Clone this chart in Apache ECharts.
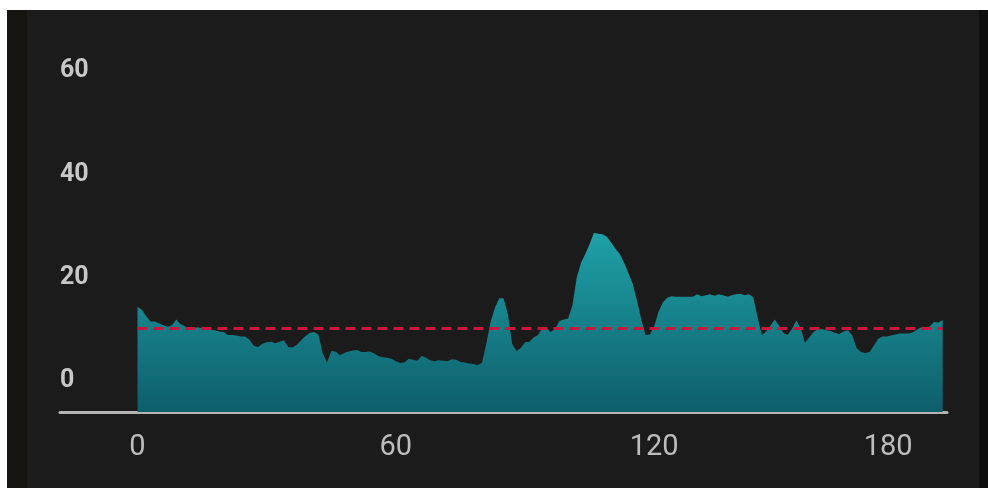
<!DOCTYPE html>
<html>
<head>
<meta charset="utf-8">
<script src="https://cdn.jsdelivr.net/npm/echarts@6/dist/echarts.min.js"></script>
<style>
  html, body { margin: 0; padding: 0; width: 988px; height: 488px; overflow: hidden; background: #1b1b1b; }
  #topStrip { position: absolute; left: 0; top: 0; width: 988px; height: 10px; background: #ffffff; }
  #leftWhite { position: absolute; left: 0; top: 0; width: 7px; height: 488px; background: #ffffff; }
  #leftDark { position: absolute; left: 7px; top: 10px; width: 20px; height: 478px; background: #151411; }
  #rightDark { position: absolute; left: 979px; top: 10px; width: 9px; height: 478px; background: #0e0e0e; }
  #chart { position: absolute; left: 0; top: 0; width: 988px; height: 488px; }
</style>
</head>
<body>
<div id="topStrip"></div>
<div id="leftWhite"></div>
<div id="leftDark"></div>
<div id="rightDark"></div>
<div id="chart"></div>
<script>
// ---- data ----
const values = [
  14.3, 13.8, 12.6, 11.5, 11.5, 11.2, 10.8, 10.5, 10.8, 11.9,
  11.0, 10.6, 10.1, 10.2, 10.4, 10.2, 10.0, 9.9, 9.8, 9.6,
  9.5, 8.9, 8.9, 8.8, 8.6, 8.6, 8.0, 6.8, 6.6, 7.2,
  7.5, 7.6, 7.3, 7.6, 7.9, 6.6, 6.5, 7.0, 7.9, 8.7,
  9.3, 9.5, 9.0, 5.4, 3.6, 5.8, 5.7, 5.0, 5.4, 5.7,
  5.9, 6.0, 5.6, 5.6, 5.7, 5.3, 4.8, 4.6, 4.5, 4.3,
  3.8, 3.5, 3.6, 4.3, 4.1, 3.9, 4.9, 4.5, 4.0, 3.8,
  4.0, 3.9, 3.8, 4.2, 4.1, 3.7, 3.6, 3.4, 3.3, 3.1,
  3.5, 7.2, 11.4, 14.2, 16.0, 16.0, 13.0, 7.2, 5.8, 6.4,
  7.5, 7.6, 8.4, 8.9, 10.2, 10.2, 9.5, 10.1, 11.6, 11.9,
  12.1, 14.6, 20.0, 22.9, 24.6, 26.5, 28.7, 28.5, 28.4, 27.9,
  26.8, 25.6, 24.6, 22.9, 20.9, 18.8, 15.6, 11.9, 8.9, 9.0,
  10.6, 13.4, 15.2, 16.1, 16.4, 16.3, 16.3, 16.3, 16.3, 16.3,
  16.8, 16.4, 16.6, 16.8, 16.5, 16.8, 16.6, 16.3, 16.6, 16.8,
  16.9, 16.6, 16.8, 16.2, 12.4, 8.9, 9.6, 10.7, 11.9, 10.7,
  9.3, 8.9, 10.1, 11.7, 10.2, 7.4, 8.4, 9.5, 10.0, 10.0,
  9.8, 9.7, 9.3, 9.1, 9.6, 9.8, 8.8, 6.4, 5.6, 5.4,
  5.6, 6.8, 8.2, 8.6, 8.6, 8.8, 9.0, 9.2, 9.2, 9.2,
  9.4, 9.9, 10.4, 10.1, 10.6, 11.4, 11.3, 11.8
];
const xValues = values.map((v, i) => i);          // x positions 0..187
const referenceLevel = 10.3;                      // dashed reference line
const xTickLabels = [0, 60, 120, 180];
const yTickLabels = [0, 20, 40, 60];

const seriesData = values.map((v, i) => [xValues[i], v]);

const chart = echarts.init(document.getElementById('chart'), null, { renderer: 'canvas' });
chart.setOption({
  backgroundColor: 'transparent',
  animation: false,
  grid: { left: 60, right: 41, top: 40, bottom: 76 },
  xAxis: {
    type: 'value',
    min: -18,
    max: 188,
    axisLine: { show: true, onZero: false, lineStyle: { color: '#b4b4b4', width: 3 } },
    axisTick: { show: false },
    splitLine: { show: false },
    axisLabel: {
      customValues: xTickLabels,
      alignMaxLabel: 'right',
      color: '#bdbdbd',
      fontFamily: 'Roboto',
      fontSize: 29,
      margin: 21
    }
  },
  yAxis: {
    type: 'value',
    min: -6,
    max: 66,
    axisLine: { show: false },
    axisTick: { show: false },
    splitLine: { show: false },
    axisLabel: {
      customValues: yTickLabels,
      inside: true,
      margin: 0,
      color: '#c7c7c7',
      fontWeight: 'bold',
      fontFamily: 'Roboto',
      fontSize: 25
    }
  },
  series: [{
    type: 'line',
    data: seriesData,
    showSymbol: false,
    lineStyle: { width: 0 },
    areaStyle: {
      origin: 'start',
      opacity: 1,
      color: new echarts.graphic.LinearGradient(0, 0, 0, 1, [
        { offset: 0, color: '#1fa1a8' },
        { offset: 1, color: '#0d5e6a' }
      ])
    },
    markLine: {
      silent: true,
      symbol: ['none', 'none'],
      label: { show: false },
      lineStyle: { color: '#c8173f', width: 3, type: [10, 6] },
      data: [[
        { coord: [xValues[0], referenceLevel] },
        { coord: [xValues[xValues.length - 1], referenceLevel] }
      ]]
    }
  }]
});
</script>
</body>
</html>
